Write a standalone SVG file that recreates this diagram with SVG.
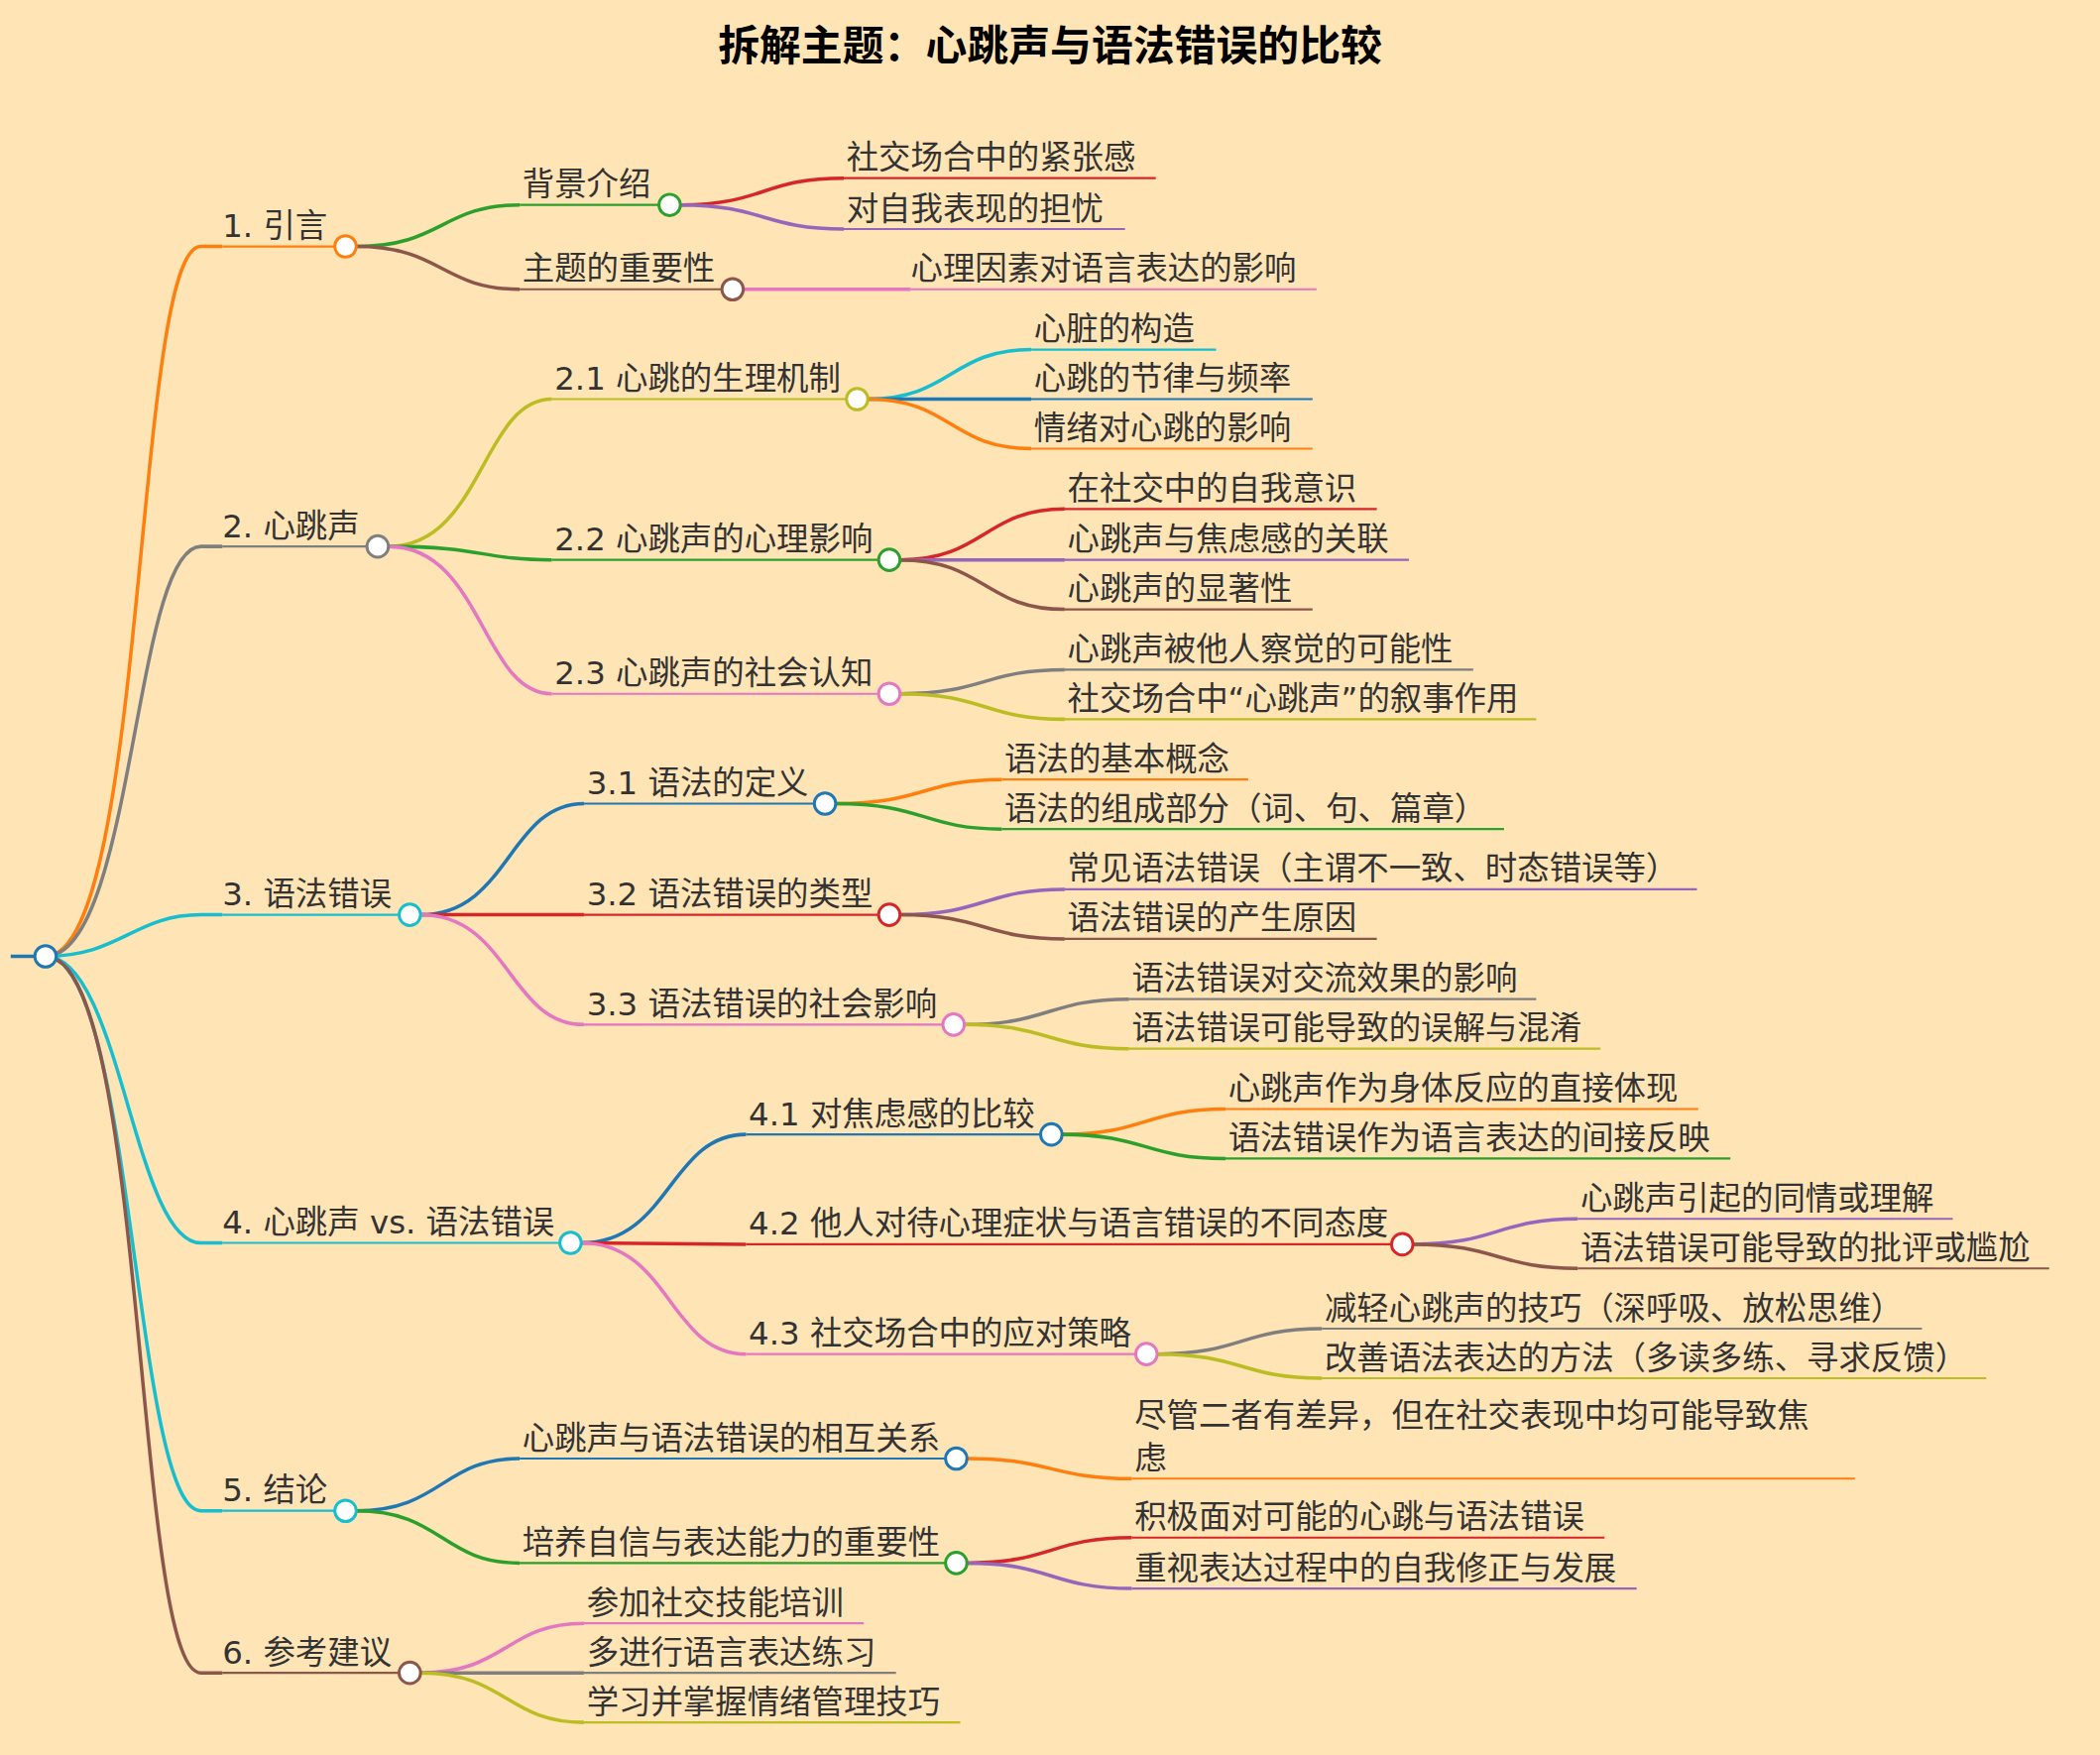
<svg xmlns="http://www.w3.org/2000/svg" width="2118" height="1770" viewBox="0 0 2118 1770">
<style>
text{font-family:"DejaVu Sans","Noto Sans CJK SC",sans-serif;font-size:24px;fill:#333}
.t{font-size:31px;font-weight:bold;fill:#000}
path{fill:none;stroke-width:2.6}
line{stroke-width:1.6}
circle{fill:#fff;stroke-width:2.2}
</style>
<rect width="2118" height="1770" fill="#ffe4b5"/>
<g transform="scale(1.3508)">
<text class="t" x="784" y="45" text-anchor="middle">拆解主题：心跳声与语法错误的比较</text>
<g id="connectors">
<path d="M8 714 L34 714" stroke="#1f77b4"/>
<path d="M34 714 C110 714 100 184 150 184 L166 184" stroke="#ff7f0e"/>
<path d="M34 714 C100 714 100 408 150 408 L166 408" stroke="#7f7f7f"/>
<path d="M34 714 C90 714 100 683 150 683 L166 683" stroke="#17becf"/>
<path d="M34 714 C90 714 100 928 150 928 L166 928" stroke="#17becf"/>
<path d="M34 714 C100 714 100 1128 150 1128 L166 1128" stroke="#17becf"/>
<path d="M34 714 C110 714 100 1249 150 1249 L166 1249" stroke="#8c564b"/>
<path d="M266 184 C330 184 330 153 388 153" stroke="#2ca02c"/>
<path d="M266 184 C330 184 330 216 388 216" stroke="#8c564b"/>
<path d="M508 153 C570 153 570 133 630 133" stroke="#d62728"/>
<path d="M508 153 C570 153 570 171 630 171" stroke="#9467bd"/>
<path d="M555 216 L680 216" stroke="#e377c2"/>
<path d="M290 408 C360 408 360 298 412 298" stroke="#bcbd22"/>
<path d="M290 408 C360 408 360 418 412 418" stroke="#2ca02c"/>
<path d="M290 408 C360 408 360 518 412 518" stroke="#e377c2"/>
<path d="M648 298 C710 298 710 261 770 261" stroke="#17becf"/>
<path d="M648 298 L770 298" stroke="#1f77b4"/>
<path d="M648 298 C710 298 710 335 770 335" stroke="#ff7f0e"/>
<path d="M672 418 C735 418 735 380 795 380" stroke="#d62728"/>
<path d="M672 418 L795 418" stroke="#9467bd"/>
<path d="M672 418 C735 418 735 455 795 455" stroke="#8c564b"/>
<path d="M672 518 C735 518 735 500 795 500" stroke="#7f7f7f"/>
<path d="M672 518 C735 518 735 537 795 537" stroke="#bcbd22"/>
<path d="M314 683 C380 683 380 600 436 600" stroke="#1f77b4"/>
<path d="M314 683 L436 683" stroke="#d62728"/>
<path d="M314 683 C380 683 380 765 436 765" stroke="#e377c2"/>
<path d="M624 600 C690 600 690 582 748 582" stroke="#ff7f0e"/>
<path d="M624 600 C690 600 690 619 748 619" stroke="#2ca02c"/>
<path d="M672 683 C735 683 735 664 795 664" stroke="#9467bd"/>
<path d="M672 683 C735 683 735 701 795 701" stroke="#8c564b"/>
<path d="M720 765 C783 765 783 746 843 746" stroke="#7f7f7f"/>
<path d="M720 765 C783 765 783 783 843 783" stroke="#bcbd22"/>
<path d="M434 928 C500 928 500 847 557 847" stroke="#1f77b4"/>
<path d="M434 928 L557 929" stroke="#d62728"/>
<path d="M434 928 C500 928 500 1011 557 1011" stroke="#e377c2"/>
<path d="M793 847 C855 847 855 828 915 828" stroke="#ff7f0e"/>
<path d="M793 847 C855 847 855 865 915 865" stroke="#2ca02c"/>
<path d="M1055 929 C1118 929 1118 910 1178 910" stroke="#9467bd"/>
<path d="M1055 929 C1118 929 1118 947 1178 947" stroke="#8c564b"/>
<path d="M864 1011 C927 1011 927 992 987 992" stroke="#7f7f7f"/>
<path d="M864 1011 C927 1011 927 1029 987 1029" stroke="#bcbd22"/>
<path d="M266 1128 C330 1128 330 1089 388 1089" stroke="#1f77b4"/>
<path d="M266 1128 C330 1128 330 1167 388 1167" stroke="#2ca02c"/>
<path d="M722 1089 C785 1089 785 1104 845 1104" stroke="#ff7f0e"/>
<path d="M722 1167 C785 1167 785 1148 845 1148" stroke="#d62728"/>
<path d="M722 1167 C785 1167 785 1186 845 1186" stroke="#9467bd"/>
<path d="M314 1249 C378 1249 378 1212 436 1212" stroke="#e377c2"/>
<path d="M314 1249 L436 1249" stroke="#7f7f7f"/>
<path d="M314 1249 C378 1249 378 1286 436 1286" stroke="#bcbd22"/>
</g>
<g id="root"><circle cx="34" cy="714" r="8" stroke="#1f77b4"/></g>
<g id="n1"><line x1="166" y1="184" x2="250" y2="184" stroke="#ff7f0e"/><text x="166" y="177">1. 引言</text><circle cx="258" cy="184" r="8" stroke="#ff7f0e"/></g>
<g id="n1a"><line x1="388" y1="153" x2="492" y2="153" stroke="#2ca02c"/><text x="390" y="146">背景介绍</text><circle cx="500" cy="153" r="8" stroke="#2ca02c"/></g>
<g id="n1a1"><line x1="630" y1="133" x2="863" y2="133" stroke="#d62728"/><text x="632" y="126">社交场合中的紧张感</text></g>
<g id="n1a2"><line x1="630" y1="171" x2="840" y2="171" stroke="#9467bd"/><text x="632" y="164">对自我表现的担忧</text></g>
<g id="n1b"><line x1="388" y1="216" x2="539" y2="216" stroke="#8c564b"/><text x="390" y="209">主题的重要性</text><circle cx="547" cy="216" r="8" stroke="#8c564b"/></g>
<g id="n1b1"><line x1="680" y1="216" x2="983" y2="216" stroke="#e377c2"/><text x="680" y="209">心理因素对语言表达的影响</text></g>
<g id="n2"><line x1="166" y1="408" x2="274" y2="408" stroke="#7f7f7f"/><text x="166" y="401">2. 心跳声</text><circle cx="282" cy="408" r="8" stroke="#7f7f7f"/></g>
<g id="n21"><line x1="412" y1="298" x2="632" y2="298" stroke="#bcbd22"/><text x="414" y="291">2.1 心跳的生理机制</text><circle cx="640" cy="298" r="8" stroke="#bcbd22"/></g>
<g id="n211"><line x1="770" y1="261" x2="908" y2="261" stroke="#17becf"/><text x="772" y="254">心脏的构造</text></g>
<g id="n212"><line x1="770" y1="298" x2="980" y2="298" stroke="#1f77b4"/><text x="772" y="291">心跳的节律与频率</text></g>
<g id="n213"><line x1="770" y1="335" x2="980" y2="335" stroke="#ff7f0e"/><text x="772" y="328">情绪对心跳的影响</text></g>
<g id="n22"><line x1="412" y1="418" x2="656" y2="418" stroke="#2ca02c"/><text x="414" y="411">2.2 心跳声的心理影响</text><circle cx="664" cy="418" r="8" stroke="#2ca02c"/></g>
<g id="n221"><line x1="795" y1="380" x2="1028" y2="380" stroke="#d62728"/><text x="797" y="373">在社交中的自我意识</text></g>
<g id="n222"><line x1="795" y1="418" x2="1052" y2="418" stroke="#9467bd"/><text x="797" y="411">心跳声与焦虑感的关联</text></g>
<g id="n223"><line x1="795" y1="455" x2="980" y2="455" stroke="#8c564b"/><text x="797" y="448">心跳声的显著性</text></g>
<g id="n23"><line x1="412" y1="518" x2="656" y2="518" stroke="#e377c2"/><text x="414" y="511">2.3 心跳声的社会认知</text><circle cx="664" cy="518" r="8" stroke="#e377c2"/></g>
<g id="n231"><line x1="795" y1="500" x2="1100" y2="500" stroke="#7f7f7f"/><text x="797" y="493">心跳声被他人察觉的可能性</text></g>
<g id="n232"><line x1="795" y1="537" x2="1147" y2="537" stroke="#bcbd22"/><text x="797" y="530">社交场合中“心跳声”的叙事作用</text></g>
<g id="n3"><line x1="166" y1="683" x2="298" y2="683" stroke="#17becf"/><text x="166" y="676">3. 语法错误</text><circle cx="306" cy="683" r="8" stroke="#17becf"/></g>
<g id="n31"><line x1="436" y1="600" x2="608" y2="600" stroke="#1f77b4"/><text x="438" y="593">3.1 语法的定义</text><circle cx="616" cy="600" r="8" stroke="#1f77b4"/></g>
<g id="n311"><line x1="748" y1="582" x2="932" y2="582" stroke="#ff7f0e"/><text x="750" y="575">语法的基本概念</text></g>
<g id="n312"><line x1="748" y1="619" x2="1123" y2="619" stroke="#2ca02c"/><text x="750" y="612">语法的组成部分（词、句、篇章）</text></g>
<g id="n32"><line x1="436" y1="683" x2="656" y2="683" stroke="#d62728"/><text x="438" y="676">3.2 语法错误的类型</text><circle cx="664" cy="683" r="8" stroke="#d62728"/></g>
<g id="n321"><line x1="795" y1="664" x2="1267" y2="664" stroke="#9467bd"/><text x="797" y="657">常见语法错误（主谓不一致、时态错误等）</text></g>
<g id="n322"><line x1="795" y1="701" x2="1028" y2="701" stroke="#8c564b"/><text x="797" y="694">语法错误的产生原因</text></g>
<g id="n33"><line x1="436" y1="765" x2="704" y2="765" stroke="#e377c2"/><text x="438" y="758">3.3 语法错误的社会影响</text><circle cx="712" cy="765" r="8" stroke="#e377c2"/></g>
<g id="n331"><line x1="843" y1="746" x2="1147" y2="746" stroke="#7f7f7f"/><text x="845" y="739">语法错误对交流效果的影响</text></g>
<g id="n332"><line x1="843" y1="783" x2="1195" y2="783" stroke="#bcbd22"/><text x="845" y="776">语法错误可能导致的误解与混淆</text></g>
<g id="n4"><line x1="166" y1="928" x2="418" y2="928" stroke="#17becf"/><text x="166" y="921">4. 心跳声 vs. 语法错误</text><circle cx="426" cy="928" r="8" stroke="#17becf"/></g>
<g id="n41"><line x1="557" y1="847" x2="777" y2="847" stroke="#1f77b4"/><text x="559" y="840">4.1 对焦虑感的比较</text><circle cx="785" cy="847" r="8" stroke="#1f77b4"/></g>
<g id="n411"><line x1="915" y1="828" x2="1268" y2="828" stroke="#ff7f0e"/><text x="917" y="821">心跳声作为身体反应的直接体现</text></g>
<g id="n412"><line x1="915" y1="865" x2="1292" y2="865" stroke="#2ca02c"/><text x="917" y="858">语法错误作为语言表达的间接反映</text></g>
<g id="n42"><line x1="557" y1="929" x2="1039" y2="929" stroke="#d62728"/><text x="559" y="922">4.2 他人对待心理症状与语言错误的不同态度</text><circle cx="1047" cy="929" r="8" stroke="#d62728"/></g>
<g id="n421"><line x1="1178" y1="910" x2="1458" y2="910" stroke="#9467bd"/><text x="1180" y="903">心跳声引起的同情或理解</text></g>
<g id="n422"><line x1="1178" y1="947" x2="1530" y2="947" stroke="#8c564b"/><text x="1180" y="940">语法错误可能导致的批评或尴尬</text></g>
<g id="n43"><line x1="557" y1="1011" x2="848" y2="1011" stroke="#e377c2"/><text x="559" y="1004">4.3 社交场合中的应对策略</text><circle cx="856" cy="1011" r="8" stroke="#e377c2"/></g>
<g id="n431"><line x1="987" y1="992" x2="1435" y2="992" stroke="#7f7f7f"/><text x="989" y="985">减轻心跳声的技巧（深呼吸、放松思维）</text></g>
<g id="n432"><line x1="987" y1="1029" x2="1483" y2="1029" stroke="#bcbd22"/><text x="989" y="1022">改善语法表达的方法（多读多练、寻求反馈）</text></g>
<g id="n5"><line x1="166" y1="1128" x2="250" y2="1128" stroke="#17becf"/><text x="166" y="1121">5. 结论</text><circle cx="258" cy="1128" r="8" stroke="#17becf"/></g>
<g id="n51"><line x1="388" y1="1089" x2="706" y2="1089" stroke="#1f77b4"/><text x="390" y="1082">心跳声与语法错误的相互关系</text><circle cx="714" cy="1089" r="8" stroke="#1f77b4"/></g>
<g id="n511"><line x1="845" y1="1104" x2="1385" y2="1104" stroke="#ff7f0e"/><text x="847" y="1065">尽管二者有差异，但在社交表现中均可能导致焦</text><text x="847" y="1097">虑</text></g>
<g id="n52"><line x1="388" y1="1167" x2="706" y2="1167" stroke="#2ca02c"/><text x="390" y="1160">培养自信与表达能力的重要性</text><circle cx="714" cy="1167" r="8" stroke="#2ca02c"/></g>
<g id="n521"><line x1="845" y1="1148" x2="1198" y2="1148" stroke="#d62728"/><text x="847" y="1141">积极面对可能的心跳与语法错误</text></g>
<g id="n522"><line x1="845" y1="1186" x2="1222" y2="1186" stroke="#9467bd"/><text x="847" y="1179">重视表达过程中的自我修正与发展</text></g>
<g id="n6"><line x1="166" y1="1249" x2="298" y2="1249" stroke="#8c564b"/><text x="166" y="1242">6. 参考建议</text><circle cx="306" cy="1249" r="8" stroke="#8c564b"/></g>
<g id="n61"><line x1="436" y1="1212" x2="645" y2="1212" stroke="#e377c2"/><text x="438" y="1205">参加社交技能培训</text></g>
<g id="n62"><line x1="436" y1="1249" x2="669" y2="1249" stroke="#7f7f7f"/><text x="438" y="1242">多进行语言表达练习</text></g>
<g id="n63"><line x1="436" y1="1286" x2="717" y2="1286" stroke="#bcbd22"/><text x="438" y="1279">学习并掌握情绪管理技巧</text></g>
</g>
</svg>
